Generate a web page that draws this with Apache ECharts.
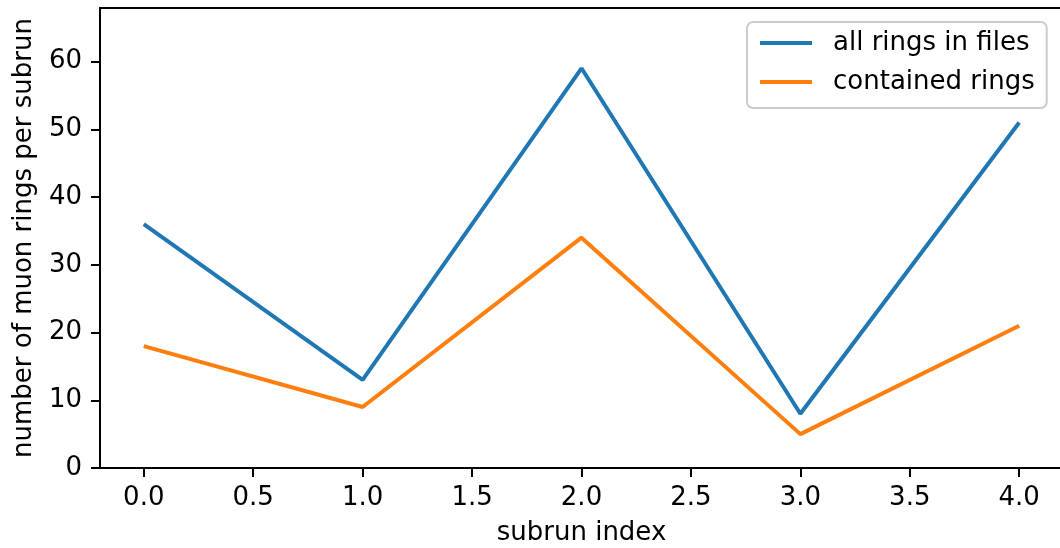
<!DOCTYPE html>
<html>
<head>
<meta charset="utf-8">
<script src="https://cdn.jsdelivr.net/npm/echarts@6/dist/echarts.min.js"></script>
<style>
html,body{margin:0;padding:0;background:#fff;}
#chart{width:1060px;height:548px;}
</style>
</head>
<body>
<div id="chart"></div>
<script>
const subrunIndex = [0, 1, 2, 3, 4];
const allRings = [36, 13, 59, 8, 51];
const containedRings = [18, 9, 34, 5, 21];
const xTicks = [0, 0.5, 1, 1.5, 2, 2.5, 3, 3.5, 4];
const yTicks = [0, 10, 20, 30, 40, 50, 60];

const FONT = 'DejaVu Sans';
const chart = echarts.init(document.getElementById('chart'), null, {renderer: 'canvas'});

function pairs(ys) { return subrunIndex.map((x, i) => [x, ys[i]]); }

chart.setOption({
  animation: false,
  backgroundColor: '#ffffff',
  textStyle: {fontFamily: FONT},
  grid: {
    left: 100, top: 8, right: -3, bottom: 80, show: false,
    containLabel: false, outerBoundsMode: 'none'
  },
  legend: {
    orient: 'vertical',
    left: 747, top: 22,
    padding: [8, 12, 13, 13],
    itemWidth: 52, itemHeight: 4, itemGap: 13,
    icon: 'rect',
    backgroundColor: '#fff',
    borderColor: '#cccccc', borderWidth: 2, borderRadius: 6,
    textStyle: {fontFamily: FONT, fontSize: 26, color: '#000', padding: [0, 0, 0, 16], lineHeight: 26},
    data: ['all rings in files', 'contained rings']
  },
  xAxis: [{
    type: 'value', min: -0.2, max: 4.2,
    name: 'subrun index', nameLocation: 'middle', nameGap: 52,
    nameTextStyle: {fontFamily: FONT, fontSize: 26, color: '#000', lineHeight: 26},
    axisLine: {show: true, onZero: false, lineStyle: {color: '#000', width: 2}},
    axisTick: {show: true, length: 9, lineStyle: {color: '#000', width: 2}, customValues: xTicks},
    axisLabel: {fontFamily: FONT, fontSize: 26, color: '#000', margin: 17, customValues: xTicks,
      formatter: v => v.toFixed(1)},
    splitLine: {show: false}
  }, {
    type: 'value', position: 'top', min: -0.2, max: 4.2,
    axisLine: {show: true, onZero: false, lineStyle: {color: '#000', width: 2}},
    axisTick: {show: false}, axisLabel: {show: false}, splitLine: {show: false}
  }],
  yAxis: {
    type: 'value', min: 0, max: 67.9,
    name: 'number of muon rings per subrun', nameLocation: 'middle', nameGap: 63,
    nameTextStyle: {fontFamily: FONT, fontSize: 26, color: '#000', lineHeight: 26},
    axisLine: {show: true, onZero: false, lineStyle: {color: '#000', width: 2}},
    axisTick: {show: true, length: 9, lineStyle: {color: '#000', width: 2}, customValues: yTicks},
    axisLabel: {fontFamily: FONT, fontSize: 26, color: '#000', margin: 18, customValues: yTicks},
    splitLine: {show: false}
  },
  series: [
    {
      name: 'all rings in files', type: 'line', data: pairs(allRings),
      symbol: 'none', lineStyle: {color: '#1f77b4', width: 4}, itemStyle: {color: '#1f77b4'}
    },
    {
      name: 'contained rings', type: 'line', data: pairs(containedRings),
      symbol: 'none', lineStyle: {color: '#ff7f0e', width: 4}, itemStyle: {color: '#ff7f0e'}
    }
  ]
});
</script>
</body>
</html>
